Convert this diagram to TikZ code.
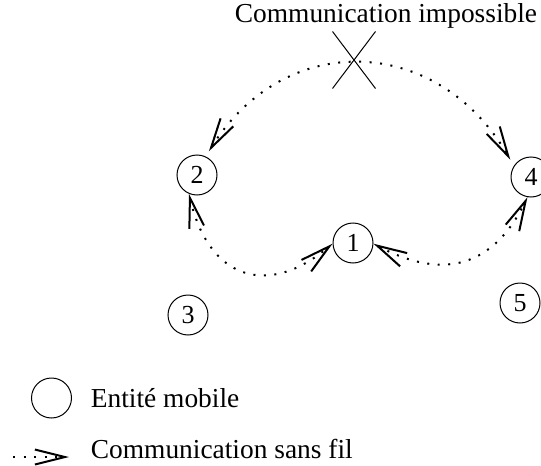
\documentclass[tikz,border=0pt]{standalone}
\usepackage{fontspec}
\setmainfont{Liberation Serif}
\usetikzlibrary{arrows.meta,shapes.misc}

\begin{document}
\begin{tikzpicture}[x=0.5pt,y=0.5pt,
  mobile/.style={draw,circle,line width=0.5pt,minimum size=20pt,inner sep=0pt,font=\fontsize{13}{15}\selectfont},
  wireless/.style={line width=1pt,dash pattern=on 1pt off 4.25pt,
    >={Straight Barb[length=15pt,width=7.5pt,line width=1pt]},<->},
  txt/.style={inner sep=0pt,font=\fontsize{13.7}{16}\selectfont}]
  \useasboundingbox (0,0) rectangle (541,-466);

  %% mobile entities
  \node[mobile] (n1) at (353,-243) {1};
  \node[mobile] (n2) at (197,-175) {2};
  \node[mobile] (n3) at (188,-315) {3};
  \node[mobile] (n4) at (531,-177) {4};
  \node[mobile] (n5) at (520,-303) {5};

  %% blocked link
  \node[txt,anchor=base] (impossible) at (386,-22) {Communication impossible};
  \node[cross out,draw,line width=0.5pt,minimum width=21pt,minimum height=28pt,inner sep=0pt] (block) at (354,-60) {};

  %% links
  \draw[wireless,shorten <=3pt,shorten >=3.5pt] (n2.65) to[out=58,in=120,looseness=1.25] (n4.147);
  \draw[wireless] (n2.247) to[out=283,in=220,looseness=1.45] (n1.182);
  \draw[wireless] (n1.358) to[out=-28,in=244,looseness=1.25] (n4.260);

  %% legend
  \node[mobile] (legmobile) at (51.5,-398) {};
  \node[txt,anchor=base west] (legmobiletxt) at (90.5,-407) {Entité mobile};
  \coordinate (legtail) at (13,-457);
  \coordinate (leghead) at (69,-457);
  \draw[line width=1pt,dash pattern=on 1pt off 4.25pt,
    -{Straight Barb[length=15pt,width=7.5pt,line width=1pt]}] (legtail) -- (leghead);
  \node[txt,anchor=base west] (legwirelesstxt) at (90.5,-458) {Communication sans fil};

\end{tikzpicture}
\end{document}
